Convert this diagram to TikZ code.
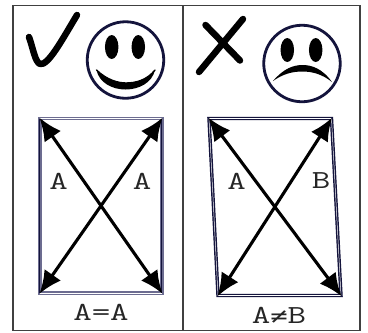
\documentclass[tikz,border=0pt]{standalone}
\usepackage{fontspec}
\newfontfamily\symfont{DejaVu Sans Mono}
\definecolor{navy}{HTML}{14143C}
\definecolor{slate}{HTML}{6C6C90}
\usetikzlibrary{arrows.meta,shapes.geometric}
\tikzset{
 px/.style={x=1pt,y=-1pt},
 frameline/.style={draw=black!75,line width=1.1pt},
 mark stroke/.style={draw=black,line width=6.5pt,line cap=round,line join=round},
 face/.style={draw=navy,line width=2.8pt,fill=white,circle,minimum size=76.5pt,inner sep=0pt},
 eye/.style={fill=black,draw=none,ellipse,minimum width=13.5pt,minimum height=24pt,inner sep=0pt},
 box/.style={line width=3.4pt,line join=miter},
 diag/.style={draw=black,line width=3.1pt,{Latex[length=23pt,width=20pt]}-{Latex[length=23pt,width=20pt]},shorten <=-1pt,shorten >=-1pt},
 lab/.style={font=\ttfamily\fontsize{26}{26}\selectfont,xscale=1.38,inner sep=0pt,text=black!85}
}
\begin{document}
\begin{tikzpicture}[px]
\useasboundingbox (0,0) rectangle (368,333);
\fill[white] (0,0) rectangle (368,333);
% frame
\coordinate (ftl) at (13,5.5); \coordinate (fbr) at (360,330.5);
\coordinate (dt) at (183,5.5); \coordinate (db) at (183,330.5);
\draw[frameline] (ftl) rectangle (fbr);
\draw[frameline] (dt) -- (db);
% check
\draw[mark stroke] (29,37) .. controls (33,48) and (35,62) .. (40,64) .. controls (48,66) and (62,40) .. (77,15);
% smile
\node[face] (smile) at (125.5,60) {};
\node[eye] (sl) at (111.7,47) {};
\node[eye] (sr) at (138.3,47) {};
\fill[black] (96.5,70) .. controls (107,80) and (118,83) .. (126,83) .. controls (136,83) and (147,80) .. (155,70)
 .. controls (149,96) and (102,96) .. (96.5,70) -- cycle;
\draw[line width=1.4pt,line cap=round] (96.5,70) .. controls (107,80) and (118,83) .. (126,83) .. controls (136,83) and (147,80) .. (155,70);
% cross
\draw[mark stroke] (243,19) -- (199,72);
\draw[mark stroke] (205.5,25) -- (240,60.5);
% frown
\node[face] (frown) at (302,63.5) {};
\node[eye] (fl) at (287.3,50) {};
\node[eye] (fr) at (315.7,50) {};
\fill[black] (273,81) .. controls (284,68) and (294,65) .. (302.5,65) .. controls (311,65) and (322,68) .. (332,82)
 .. controls (322,74) and (312,71.5) .. (302.5,71.5) .. controls (292,71.5) and (283,74) .. (273,81) -- cycle;
% left box
\coordinate (a1) at (40,118.5); \coordinate (a2) at (162,118.5);
\coordinate (a3) at (162,293); \coordinate (a4) at (40,293);
\draw[box,draw=slate] (a1) -- (a2) -- (a3) -- (a4) -- cycle;
\draw[draw=white,line width=.5pt] (a1) -- (a2) (a3) -- (a4);
\draw[draw=navy,line width=1pt] (a1) -- (a4) (a2) -- (a3);
\draw[diag] (a1) -- (a3);
\draw[diag] (a2) -- (a4);
\node[lab] (la) at (58.5,181) {A};
\node[lab] (ra) at (142,181) {A};
\node[lab] (eq) at (101,312) {A=A};
% right box
\coordinate (b1) at (209,118.5); \coordinate (b2) at (331.5,118.5);
\coordinate (b3) at (341,295.5); \coordinate (b4) at (218,295.5);
\draw[box,draw=navy] (b1) -- (b2) -- (b3) -- (b4) -- cycle;
\draw[draw=white,line width=.7pt] (b1) -- (b2) (b3) -- (b4);
\draw[draw=white,line width=.5pt] (b1) -- (b4) (b2) -- (b3);
\draw[diag] (b1) -- (b3);
\draw[diag] (b2) -- (b4);
\node[lab] (lb) at (236.5,181) {A};
\node[lab] (rb) at (321,181) {B};
\node[lab] (ne) at (279,315) {A{\symfont\fontsize{21}{21}\selectfont ≠}B};
\end{tikzpicture}
\end{document}
